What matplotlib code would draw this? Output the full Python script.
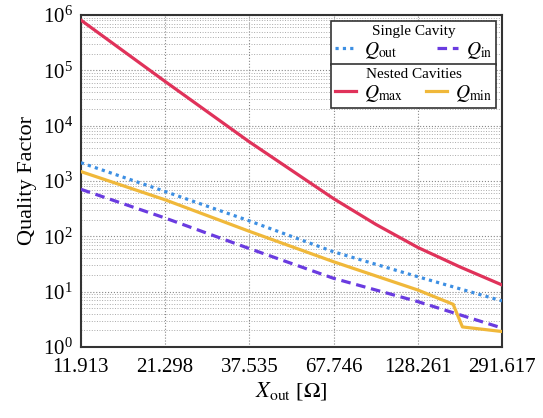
import matplotlib.pyplot as plt
from matplotlib.ticker import LogLocator, NullFormatter

plt.rcParams['font.family'] = ['Liberation Serif', 'DejaVu Serif']
plt.rcParams['mathtext.fontset'] = 'stix'

# x tick labels (X_out in Ohm), evenly spaced on the plot
xtick_labels = ['11.913', '21.298', '37.535', '67.746', '128.261', '291.617']

# single cavity
x_single = [0, 1, 2, 3, 4, 5]
q_out = [2140, 646, 190, 52.5, 18.6, 6.8]
q_in = [708, 214, 60, 17.4, 6.6, 2.2]

# nested cavities
x_max = [0, 1, 2, 3, 3.5, 4, 4.5, 5]
q_max = [8.1e5, 6.3e4, 5.1e3, 4.8e2, 1.65e2, 63, 28, 13.2]
x_min = [0, 1, 2, 3, 4, 4.42, 4.53, 5]
q_min = [1480, 457, 123, 34.7, 10.7, 5.9, 2.3, 1.9]

c_out = '#3d8fe3'
c_in = '#6a3be0'
c_max = '#e0325a'
c_min = '#f0b83a'

fig = plt.figure(figsize=(5.43, 4.18), dpi=100)
ax = fig.add_axes([0.149, 0.170, 0.7755, 0.794])

lw = 2.3
l_out, = ax.plot(x_single, q_out, color=c_out, lw=lw, linestyle=(0, (1, 1.3)), zorder=3)
l_in, = ax.plot(x_single, q_in, color=c_in, lw=lw, linestyle=(0, (3, 1.8)), zorder=3)
l_max, = ax.plot(x_max, q_max, color=c_max, lw=lw, zorder=3)
l_min, = ax.plot(x_min, q_min, color=c_min, lw=lw, zorder=3)

ax.set_yscale('log')
ax.set_ylim(1, 1e6)
ax.set_xlim(0, 5)
ax.set_xticks(range(len(xtick_labels)))
ax.set_xticklabels(xtick_labels)
ax.yaxis.set_major_locator(LogLocator(base=10, numticks=10))
ax.yaxis.set_minor_locator(LogLocator(base=10, subs=range(2, 10), numticks=100))
ax.yaxis.set_minor_formatter(NullFormatter())

ax.grid(True, which='major', color='#888888', linestyle=':', linewidth=0.8)
ax.grid(True, which='minor', axis='y', color='#aaaaaa', linestyle=':', linewidth=0.7)
ax.set_axisbelow(True)

ax.tick_params(which='both', length=0)
ax.tick_params(axis='x', labelsize=15, pad=8)
ax.tick_params(axis='y', labelsize=15, pad=6)
for s in ax.spines.values():
    s.set_linewidth(1.5)
    s.set_color('#333333')

ax.set_ylabel('Quality Factor', fontsize=16, labelpad=4)
ax.set_xlabel(r'$X_{\mathrm{out}}$ [$\Omega$]', fontsize=16, labelpad=2)

# stacked legend boxes, same width
leg_kw = dict(ncol=2, fontsize=14, title_fontsize=11, frameon=True, fancybox=False,
              edgecolor='#333333', framealpha=1, handlelength=1.1, handletextpad=0.4,
              columnspacing=1.0, borderpad=0.2, labelspacing=0.1, borderaxespad=0,
              mode='expand', loc='upper left')
leg1 = ax.legend([l_out, l_in], [r'$Q_{\mathrm{out}}$', r'$Q_{\mathrm{in}}$'],
                 title='Single Cavity', bbox_to_anchor=(0.594, 0.852, 0.392, 0.13), **leg_kw)
leg1.get_frame().set_linewidth(1.2)
ax.add_artist(leg1)
leg2 = ax.legend([l_max, l_min], [r'$Q_{\mathrm{max}}$', r'$Q_{\mathrm{min}}$'],
                 title='Nested Cavities', bbox_to_anchor=(0.594, 0.72, 0.392, 0.132), **leg_kw)
leg2.get_frame().set_linewidth(1.2)

fig.savefig('out.png', dpi=100)
